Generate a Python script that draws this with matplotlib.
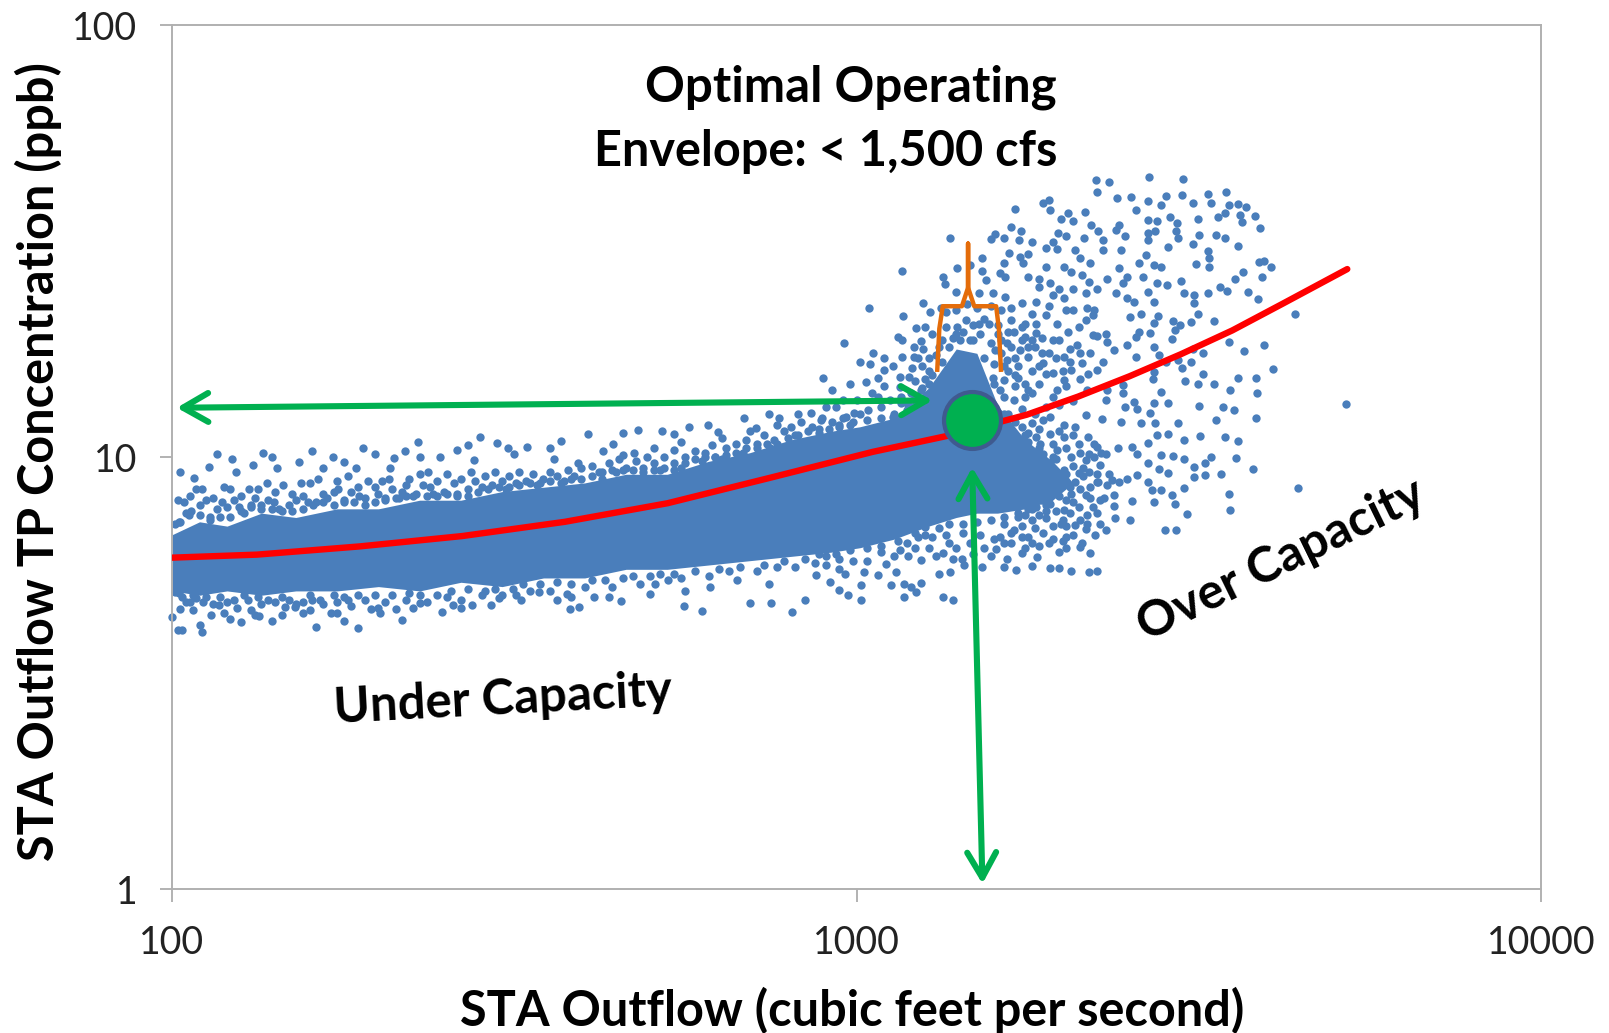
import matplotlib
matplotlib.use('Agg')
import matplotlib.pyplot as plt
import numpy as np

plt.rcParams['font.family'] = ['Lato', 'DejaVu Sans']

BLUE = '#4a7ebb'
GREEN = '#00b050'

# the cloud lists were read on a grid of 688 px per decade, the axis has 684.5
READ_STRETCH = 1.005

# solid part of the cloud: edges of the blue mass
core_flow = [2.00, 2.04, 2.08, 2.13, 2.18, 2.24, 2.30, 2.36, 2.42, 2.48, 2.54, 2.60, 2.66, 2.72, 2.78, 2.84, 2.90, 2.96,
             3.00, 3.05, 3.10, 3.14, 3.17, 3.20, 3.24, 3.28, 3.31]
core_high = [0.82, 0.85, 0.84, 0.87, 0.86, 0.88, 0.88, 0.90, 0.90, 0.92, 0.93, 0.94, 0.96, 0.96, 0.99, 1.01, 1.04, 1.06,
             1.07, 1.09, 1.16, 1.25, 1.24, 1.12, 1.04, 0.99, 0.94]
core_low = [0.69, 0.68, 0.69, 0.68, 0.69, 0.69, 0.70, 0.69, 0.71, 0.70, 0.72, 0.72, 0.74, 0.74, 0.75, 0.76, 0.77, 0.78,
            0.79, 0.81, 0.84, 0.86, 0.87, 0.87, 0.88, 0.90, 0.94]

top_edge = [(2.011, .966), (2.032, .951), (2.035, .927), (2.054, .978), (2.066, 1.008), (2.087, .995), (2.093, .966),
            (2.118, .981), (2.133, 1.010), (2.145, .999), (2.152, .974), (2.185, .989), (2.204, 1.015), (2.219, .974),
            (2.234, .999), (2.250, .989), (2.268, .974), (2.277, 1.020), (2.295, 1.008), (2.317, .974), (2.323, .997),
            (2.338, 1.015), (2.357, 1.035), (2.360, 1.001), (2.372, .966), (2.390, 1.001), (2.415, 1.016), (2.430, 1.028),
            (2.448, 1.047), (2.439, .993), (2.473, 1.033), (2.488, 1.020), (2.497, 1.008), (2.516, 1.022), (2.549, 1.020),
            (2.565, 1.037), (2.556, .995), (2.604, 1.053), (2.626, 1.015), (2.641, 1.030), (2.656, 1.055), (2.678, 1.063),
            (2.672, 1.010), (2.712, 1.061), (2.730, 1.053), (2.730, 1.016), (2.751, 1.070), (2.779, 1.074), (2.794, 1.059),
            (2.785, 1.028), (2.831, 1.090), (2.849, 1.066), (2.868, 1.100), (2.883, 1.090)]

upper_band = [(2.008, .90), (2.012, .85), (2.02, .87), (2.028, .875), (2.04, .89), (2.05, .90), (2.055, .86), (2.065, .88),
              (2.075, .93), (2.08, .885), (2.09, .90), (2.10, .91), (2.105, .87), (2.115, .89), (2.125, .925), (2.13, .89),
              (2.14, .90), (2.15, .92), (2.155, .88), (2.17, .89), (2.18, .90), (2.19, .91), (2.20, .94), (2.21, .895),
              (2.22, .915), (2.235, .92), (2.24, .945), (2.25, .90), (2.26, .92), (2.27, .93), (2.28, .905), (2.295, .93),
              (2.305, .945), (2.31, .905), (2.32, .925), (2.335, .92), (2.345, .95), (2.35, .91), (2.365, .935), (2.375, .93),
              (2.385, .945), (2.395, .92), (2.41, .94), (2.42, .95), (2.43, .925), (2.44, .945), (2.455, .955), (2.465, .935),
              (2.48, .945), (2.49, .955), (2.505, .965), (2.515, .945), (2.525, .96), (2.54, .95), (2.55, .965), (2.56, .955),
              (2.575, .97), (2.585, .955), (2.595, .975), (2.61, .98), (2.62, .965), (2.635, .985), (2.65, .995), (2.66, .975),
              (2.675, .99), (2.69, 1.00), (2.70, .985), (2.715, 1.00), (2.73, .985), (2.745, 1.00), (2.76, 1.015), (2.775, 1.01),
              (2.79, 1.00), (2.805, 1.02), (2.82, 1.03), (2.835, 1.04), (2.85, 1.03), (2.86, 1.05), (2.875, 1.04), (2.89, 1.06),
              (2.90, 1.07), (2.915, 1.08), (2.93, 1.07), (2.945, 1.09), (2.96, 1.08), (2.975, 1.09), (2.99, 1.08)]

# second pass over the speckled strip above the solid mass
upper_fill = [(2.005, .845), (2.018, .895), (2.026, .91), (2.044, .925), (2.06, .905), (2.072, .895), (2.085, .925), (2.098, .885),
              (2.112, .925), (2.12, .905), (2.138, .94), (2.148, .895), (2.162, .935), (2.175, .915), (2.188, .94), (2.198, .895),
              (2.212, .95), (2.226, .905), (2.242, .925), (2.256, .955), (2.272, .91), (2.285, .945), (2.30, .915), (2.315, .95),
              (2.33, .905), (2.34, .935), (2.36, .96), (2.38, .915), (2.40, .96), (2.415, .915), (2.435, .965), (2.45, .93),
              (2.47, .965), (2.485, .925), (2.50, .94), (2.53, .935), (2.57, .945), (2.59, .985), (2.625, .95), (2.645, .965),
              (2.665, .95), (2.685, .975), (2.71, .97), (2.74, .975), (2.77, .99), (2.80, .995), (2.83, 1.01), (2.87, 1.02),
              (2.905, 1.05), (2.94, 1.065), (2.97, 1.07), (2.655, 1.005), (2.70, 1.02), (2.74, 1.035), (2.80, 1.045), (2.84, 1.06),
              (2.88, 1.075), (2.91, 1.10), (2.95, 1.115), (3.00, 1.10), (3.03, 1.115), (3.06, 1.125), (3.08, 1.14), (3.10, 1.17)]

# dots sitting on the top edge of the solid mass, they roughen it
core_top_dots = [(2.01, .85), (2.025, .865), (2.04, .865), (2.055, .855), (2.07, .86), (2.085, .86), (2.10, .875), (2.115, .885),
                 (2.13, .88), (2.145, .88), (2.16, .875), (2.175, .875), (2.19, .88), (2.205, .89), (2.22, .895), (2.235, .89),
                 (2.25, .895), (2.265, .895), (2.28, .89), (2.295, .895), (2.31, .90), (2.325, .905), (2.34, .91), (2.355, .915),
                 (2.37, .91), (2.385, .91), (2.40, .915), (2.415, .91), (2.43, .91), (2.445, .92), (2.46, .925), (2.475, .93),
                 (2.49, .93), (2.505, .935), (2.52, .94), (2.535, .94), (2.55, .945), (2.565, .94), (2.58, .95), (2.595, .95),
                 (2.61, .955), (2.625, .965), (2.64, .97), (2.655, .97), (2.67, .97), (2.685, .965), (2.70, .97), (2.715, .975),
                 (2.73, .97), (2.745, .985), (2.76, .995), (2.775, 1.0), (2.79, 1.0), (2.805, 1.005), (2.82, 1.01), (2.835, 1.02),
                 (2.85, 1.02), (2.865, 1.03), (2.88, 1.03), (2.895, 1.045), (2.91, 1.05), (2.925, 1.06), (2.94, 1.055),
                 (2.955, 1.065), (2.97, 1.075), (2.985, 1.075), (3.01, 1.085), (3.03, 1.09), (3.05, 1.10), (3.07, 1.12),
                 (3.09, 1.16), (3.105, 1.19), (3.12, 1.22), (3.13, 1.255), (3.145, 1.27), (3.165, 1.27), (3.18, 1.23),
                 (3.195, 1.17), (3.21, 1.10), (3.225, 1.08), (3.24, 1.05), (3.26, 1.02), (3.28, 1.0), (3.30, .96)]

bottom_edge = [(2.000, .630), (2.008, .599), (2.014, .599), (2.011, .649), (2.005, .688), (2.026, .665), (2.035, .673),
               (2.041, .611), (2.044, .595), (2.057, .634), (2.069, .657), (2.084, .626), (2.100, .619), (2.115, .646),
               (2.127, .632), (2.145, .621), (2.164, .653), (2.179, .653), (2.191, .638), (2.210, .607), (2.204, .669),
               (2.231, .638), (2.250, .621), (2.256, .669), (2.271, .605), (2.289, .649), (2.302, .638), (2.335, .622),
               (2.326, .649), (2.360, .661), (2.393, .642), (2.409, .657), (2.436, .657), (2.464, .657), (2.476, .673),
               (2.507, .669), (2.534, .688), (2.559, .670), (2.574, .684), (2.579, .647), (2.591, .652), (2.614, .676),
               (2.635, .676), (2.652, .667), (2.695, .683), (2.702, .707), (2.744, .655), (2.745, .690), (2.771, .643),
               (2.782, .700), (2.840, .663), (2.871, .661), (2.901, .641), (2.920, .670), (2.868, .707), (2.822, .715),
               (2.721, .715)]

lower_band = [(2.01, .685), (2.02, .665), (2.05, .675), (2.06, .66), (2.08, .665), (2.095, .65), (2.11, .67), (2.13, .66),
              (2.15, .665), (2.17, .67), (2.19, .665), (2.22, .66), (2.24, .665), (2.26, .655), (2.28, .67), (2.31, .665),
              (2.34, .67), (2.37, .665), (2.40, .675), (2.42, .67), (2.45, .68), (2.48, .68), (2.52, .69), (2.55, .69),
              (2.60, .70), (2.64, .70), (2.68, .705), (2.74, .72), (2.78, .725), (2.81, .735), (2.85, .735), (2.88, .745),
              (2.905, .745), (2.935, .755), (2.95, .77), (2.97, .765), (2.03, .645), (2.075, .64), (2.12, .635), (2.16, .635),
              (2.20, .645), (2.24, .64), (2.30, .65), (2.35, .65), (2.42, .65), (2.50, .68), (2.58, .675)]

core_bottom_dots = [(2.015, .675), (2.03, .68), (2.045, .665), (2.07, .675), (2.09, .67), (2.105, .68), (2.125, .675), (2.14, .67),
                    (2.16, .675), (2.18, .66), (2.20, .68), (2.215, .67), (2.235, .68), (2.25, .675), (2.27, .68), (2.295, .68),
                    (2.32, .68), (2.345, .685), (2.36, .68), (2.385, .68), (2.405, .69), (2.43, .695), (2.455, .69), (2.47, .695),
                    (2.495, .695), (2.51, .705), (2.535, .705), (2.56, .71), (2.58, .705), (2.61, .715), (2.63, .715), (2.655, .72),
                    (2.67, .725), (2.695, .725), (2.71, .73), (2.73, .73), (2.76, .735), (2.795, .74), (2.825, .745), (2.86, .75),
                    (2.89, .76), (2.92, .765), (2.94, .775), (2.965, .775), (2.985, .785), (3.01, .79), (3.03, .795), (3.055, .805),
                    (3.08, .825), (3.095, .82), (3.115, .835), (3.13, .845), (3.15, .845), (3.17, .85), (3.19, .855), (3.21, .86),
                    (3.23, .87), (3.25, .88), (3.27, .89), (3.29, .91), (3.305, .93)]

upper_right = [(3.343, 1.641), (3.362, 1.636), (3.420, 1.649), (3.470, 1.643), (3.345, 1.614), (3.374, 1.599), (3.394, 1.601),
               (3.419, 1.593), (3.445, 1.604), (3.468, 1.606), (3.506, 1.609), (3.532, 1.614), (3.484, 1.587), (3.510, 1.587),
               (3.438, 1.583), (3.537, 1.583), (3.549, 1.586), (3.561, 1.578), (3.530, 1.564), (3.552, 1.560), (3.575, 1.558),
               (3.520, 1.555), (3.492, 1.550), (3.582, 1.529), (3.555, 1.543), (3.451, 1.555), (3.419, 1.549), (3.432, 1.546),
               (3.461, 1.541), (3.401, 1.572), (3.327, 1.566), (3.302, 1.565), (3.310, 1.546), (3.292, 1.551), (3.276, 1.572),
               (3.275, 1.596), (3.266, 1.589), (3.226, 1.573), (3.336, 1.537), (3.346, 1.524), (3.377, 1.537), (3.372, 1.525),
               (3.386, 1.511), (3.419, 1.519), (3.429, 1.522), (3.459, 1.524), (3.463, 1.506), (3.484, 1.494), (3.493, 1.514),
               (3.518, 1.514), (3.531, 1.506), (3.550, 1.488), (3.506, 1.478), (3.507, 1.460), (3.507, 1.440), (3.488, 1.447),
               (3.580, 1.452), (3.588, 1.454), (3.597, 1.439), (3.557, 1.429), (3.584, 1.417), (3.545, 1.413), (3.523, 1.394),
               (3.534, 1.384), (3.506, 1.379), (3.564, 1.381), (3.579, 1.366), (3.515, 1.315), (3.633, 1.330), (3.537, 1.267),
               (3.588, 1.259), (3.558, 1.246), (3.600, 1.203), (3.499, 1.241), (3.498, 1.193), (3.515, 1.169), (3.549, 1.184),
               (3.576, 1.184), (3.538, 1.155), (3.577, 1.147), (3.493, 1.119), (3.528, 1.115), (3.544, 1.108), (3.576, 1.091),
               (3.706, 1.122), (3.518, 1.085), (3.494, 1.049), (3.531, 1.047), (3.550, 1.037), (3.510, .999), (3.546, .997),
               (3.572, .972), (3.525, .960), (3.502, .985), (3.501, .959), (3.637, .929), (3.537, .914), (3.538, .877),
               (3.476, .867), (3.443, .832), (3.459, .832), (3.392, .854), (3.371, .859)]

middle_right = [(3.354, 1.502), (3.354, 1.479), (3.379, 1.479), (3.419, 1.502), (3.448, 1.487), (3.416, 1.467), (3.406, 1.448),
                (3.427, 1.444), (3.437, 1.439), (3.376, 1.437), (3.359, 1.413), (3.388, 1.417), (3.412, 1.417), (3.467, 1.408),
                (3.383, 1.402), (3.432, 1.403), (3.447, 1.398), (3.419, 1.383), (3.372, 1.379), (3.388, 1.367), (3.398, 1.359),
                (3.471, 1.379), (3.486, 1.375), (3.486, 1.356), (3.492, 1.331), (3.481, 1.313), (3.427, 1.359), (3.409, 1.332),
                (3.434, 1.326), (3.393, 1.325), (3.455, 1.315), (3.427, 1.311), (3.406, 1.290), (3.422, 1.286), (3.401, 1.278),
                (3.357, 1.284), (3.339, 1.282), (3.359, 1.267), (3.388, 1.259), (3.370, 1.247), (3.458, 1.294), (3.453, 1.274),
                (3.466, 1.305), (3.427, 1.255), (3.435, 1.236), (3.401, 1.232), (3.445, 1.220), (3.463, 1.224), (3.481, 1.220),
                (3.468, 1.207), (3.484, 1.251), (3.354, 1.220), (3.331, 1.193), (3.344, 1.201), (3.428, 1.197), (3.426, 1.180),
                (3.383, 1.166), (3.359, 1.155), (3.472, 1.176), (3.492, 1.169), (3.437, 1.151), (3.383, 1.147), (3.357, 1.133),
                (3.398, 1.128), (3.448, 1.126), (3.386, 1.116), (3.403, 1.112), (3.427, 1.124), (3.328, 1.097), (3.352, 1.089),
                (3.380, 1.081), (3.409, 1.079), (3.422, 1.101), (3.429, 1.078), (3.463, 1.078), (3.448, 1.054), (3.471, 1.039),
                (3.432, 1.051), (3.419, 1.033), (3.375, 1.020), (3.396, 1.024), (3.403, 1.008), (3.437, 1.004), (3.455, 1.002),
                (3.471, .995), (3.419, .985), (3.435, .973), (3.448, .962), (3.486, .977), (3.486, .953), (3.403, .958),
                (3.419, .943), (3.388, .949), (3.377, .943), (3.367, .946), (3.424, .923), (3.437, .923), (3.453, .912),
                (3.458, .892), (3.471, .929), (3.396, .898), (3.428, .896), (3.370, .912), (3.370, .886), (3.346, .943)]

upper_left = [(3.131, 1.508), (3.061, 1.431), (3.013, 1.346), (3.062, 1.327), (2.977, 1.264), (2.947, 1.184), (3.219, 1.533),
              (3.196, 1.516), (3.191, 1.504), (3.210, 1.508), (3.234, 1.522), (3.231, 1.502), (3.250, 1.498), (3.280, 1.498),
              (3.288, 1.519), (3.299, 1.511), (3.326, 1.506), (3.217, 1.473), (3.245, 1.471), (3.232, 1.464), (3.237, 1.448),
              (3.178, 1.460), (3.160, 1.444), (3.141, 1.437), (3.178, 1.431), (3.209, 1.448), (3.204, 1.425), (3.211, 1.417),
              (3.183, 1.410), (3.121, 1.417), (3.123, 1.400), (3.139, 1.383), (3.173, 1.379), (3.193, 1.379), (3.211, 1.371),
              (3.235, 1.356), (3.256, 1.359), (3.245, 1.417), (3.261, 1.413), (3.276, 1.402), (3.281, 1.375), (3.297, 1.367),
              (3.310, 1.340), (3.271, 1.483), (3.287, 1.481), (3.313, 1.479), (3.297, 1.440), (3.307, 1.429), (3.323, 1.421),
              (3.333, 1.406), (3.344, 1.390), (3.328, 1.379), (3.261, 1.394), (3.092, 1.357), (3.118, 1.346), (3.102, 1.336),
              (3.082, 1.299), (3.095, 1.302), (3.056, 1.278), (3.061, 1.271), (3.079, 1.255), (3.089, 1.269), (3.092, 1.251),
              (3.019, 1.240), (3.035, 1.230), (3.000, 1.219), (3.014, 1.215), (3.048, 1.210), (3.061, 1.232), (3.079, 1.232),
              (3.035, 1.201), (3.027, 1.182), (2.986, 1.170), (3.009, 1.174), (2.959, 1.155), (3.058, 1.186), (3.071, 1.186),
              (3.141, 1.302), (3.154, 1.317), (3.173, 1.309), (3.188, 1.309), (3.219, 1.317), (3.240, 1.309), (3.256, 1.309),
              (3.271, 1.329), (3.287, 1.309), (3.302, 1.290), (3.318, 1.302), (3.328, 1.317), (3.339, 1.329), (3.281, 1.271),
              (3.256, 1.286), (3.240, 1.278), (3.224, 1.290), (3.214, 1.263), (3.196, 1.247), (3.232, 1.247), (3.245, 1.232),
              (3.266, 1.217), (3.271, 1.193), (3.297, 1.232), (3.307, 1.201), (3.323, 1.217), (3.214, 1.224), (3.230, 1.182),
              (3.209, 1.178), (3.193, 1.182), (3.287, 1.155), (3.297, 1.178), (3.250, 1.147), (3.240, 1.139), (3.224, 1.132),
              (3.204, 1.155), (2.929, 1.101), (2.944, 1.085), (2.965, 1.116), (2.980, 1.093), (2.996, 1.132), (3.012, 1.108),
              (3.027, 1.139), (3.043, 1.132), (3.058, 1.163), (3.074, 1.147), (3.089, 1.155), (2.975, 1.132), (3.017, 1.147),
              (2.991, 1.101), (3.048, 1.093), (3.069, 1.108), (3.095, 1.132)]

# the busy cone above the green circle
cone_fill = [(3.10, 1.20), (3.11, 1.235), (3.12, 1.27), (3.125, 1.30), (3.135, 1.275), (3.15, 1.29), (3.16, 1.27), (3.175, 1.285),
             (3.19, 1.265), (3.20, 1.285), (3.205, 1.24), (3.215, 1.20), (3.22, 1.255), (3.225, 1.165), (3.23, 1.21), (3.24, 1.17),
             (3.25, 1.20), (3.255, 1.255), (3.26, 1.17), (3.265, 1.275), (3.275, 1.24), (3.28, 1.14), (3.29, 1.27), (3.295, 1.20),
             (3.305, 1.25), (3.315, 1.26), (3.32, 1.18), (3.335, 1.24), (3.345, 1.28), (3.30, 1.34), (3.31, 1.39), (3.33, 1.345),
             (3.275, 1.35), (3.29, 1.39), (3.25, 1.33), (3.27, 1.44), (3.22, 1.345), (3.205, 1.34), (3.19, 1.35), (3.17, 1.345),
             (3.155, 1.355), (3.14, 1.34), (3.125, 1.335), (3.105, 1.285), (3.09, 1.21), (3.075, 1.205), (3.11, 1.165), (3.125, 1.19),
             (3.035, 1.165), (3.06, 1.14), (3.08, 1.175), (3.095, 1.18), (3.21, 1.14), (3.215, 1.10), (3.235, 1.11), (3.255, 1.10),
             (3.27, 1.115), (3.29, 1.12), (3.31, 1.13), (3.33, 1.155), (3.195, 1.215), (3.34, 1.34), (3.32, 1.46), (3.335, 1.45),
             (3.14, 1.285), (3.165, 1.305), (3.18, 1.32), (3.20, 1.305), (3.215, 1.29), (3.235, 1.30), (3.25, 1.27), (3.235, 1.27),
             (3.205, 1.27), (3.225, 1.23), (3.245, 1.255), (3.265, 1.24), (3.285, 1.23), (3.305, 1.22), (3.32, 1.24), (3.26, 1.21),
             (3.28, 1.195), (3.30, 1.165), (3.245, 1.155), (3.225, 1.19), (3.21, 1.21), (3.115, 1.255), (3.10, 1.23), (3.085, 1.23)]

lower_right = [(3.235, 1.070), (3.250, 1.078), (3.266, 1.085), (3.276, 1.093), (3.297, 1.074), (3.313, 1.070), (3.331, 1.047),
               (3.344, 1.024), (3.357, 1.008), (3.235, 1.039), (3.256, 1.047), (3.276, 1.054), (3.297, 1.047), (3.318, 1.031),
               (3.333, 1.008), (3.245, 1.016), (3.266, 1.008), (3.287, 1.016), (3.307, 1.000), (3.328, .993), (3.349, .981),
               (3.235, .985), (3.256, .977), (3.276, .985), (3.297, .970), (3.318, .962), (3.333, .966), (3.250, .954),
               (3.271, .946), (3.292, .939), (3.313, .943), (3.344, .943), (3.359, .935), (3.224, .946), (3.240, .923),
               (3.266, .923), (3.287, .915), (3.307, .915), (3.328, .912), (3.349, .900), (3.235, .900), (3.256, .885),
               (3.276, .892), (3.297, .877), (3.318, .885), (3.339, .885), (3.214, .885), (3.230, .861), (3.250, .854),
               (3.271, .858), (3.292, .846), (3.313, .842), (3.328, .834), (3.357, .831), (3.349, .846), (3.209, .846),
               (3.204, .815), (3.224, .831), (3.245, .815), (3.266, .823), (3.281, .811), (3.300, .815), (3.323, .800),
               (3.341, .819), (3.320, .792), (3.334, .777), (3.198, .788), (3.214, .765), (3.235, .777), (3.258, .769),
               (3.209, .746), (3.227, .739), (3.250, .747), (3.276, .744), (3.289, .742), (3.307, .736), (3.333, .734),
               (3.344, .736), (3.228, 1.02), (3.245, 1.055), (3.262, 1.03), (3.28, 1.03), (3.30, 1.02), (3.32, 1.01), (3.34, 1.00),
               (3.25, .995), (3.268, .965), (3.285, .995), (3.30, .945), (3.325, .955), (3.345, .96), (3.26, .94), (3.28, .92),
               (3.30, .90), (3.32, .925), (3.335, .93), (3.245, .90), (3.265, .90), (3.285, .875), (3.305, .87), (3.33, .865),
               (3.24, .865), (3.26, .865), (3.28, .84), (3.30, .84), (3.235, .84), (3.255, .835), (3.22, .80), (3.26, .795),
               (3.29, .78), (3.30, .79), (3.24, .79), (3.21, .80), (3.22, .825), (3.235, .815), (3.25, .80), (3.275, .80),
               (3.295, .805), (3.31, .82), (3.33, .845), (3.345, .87), (3.355, .905), (3.362, .96), (3.35, 1.01), (3.34, 1.03),
               (3.31, 1.05), (3.29, 1.06), (3.26, 1.065), (3.245, 1.035), (3.27, .95), (3.29, .96), (3.31, .98), (3.325, .975),
               (3.255, .93), (3.275, .905), (3.31, .895), (3.335, .905), (3.295, .855), (3.32, .855), (3.27, .875), (3.245, .88)]

lower_left = [(3.121, .777), (3.136, .765), (3.149, .765), (3.115, .730), (3.131, .734), (3.178, .746), (3.152, .750),
              (3.095, .838), (3.105, .815), (3.089, .761), (3.069, .800), (3.058, .784), (3.038, .753), (3.053, .734),
              (3.027, .726), (3.006, .734), (3.001, .703), (2.978, .730), (2.957, .711), (2.936, .726), (2.970, .692),
              (2.983, .680), (3.045, .703), (3.064, .705), (3.089, .709), (3.074, .699), (3.082, .688), (3.064, .676),
              (3.121, .676), (3.136, .670), (3.001, .668), (2.95, .75), (2.97, .74), (2.99, .76), (3.01, .76), (3.03, .78),
              (3.05, .77), (3.08, .79), (3.10, .79), (3.13, .80), (3.16, .80), (3.18, .79), (3.19, .77), (3.07, .77), (3.11, .77),
              (3.14, .79), (3.165, .775), (3.195, .81), (3.175, .82), (3.15, .825), (3.125, .82), (3.085, .815)]

trend_flow = [2.000, 2.124, 2.274, 2.424, 2.574, 2.724, 2.874, 3.024, 3.136, 3.249, 3.324, 3.399, 3.474, 3.549, 3.624, 3.717]
trend_tp = [0.767, 0.774, 0.793, 0.817, 0.850, 0.893, 0.952, 1.012, 1.050, 1.098, 1.140, 1.187, 1.238, 1.293, 1.356, 1.435]

optimum = (3.169, 1.086)
bracket_flow = [3.118, 3.121, 3.126, 3.154, 3.163, 3.163, 3.163, 3.172, 3.204, 3.208, 3.211]
bracket_tp = [1.202, 1.297, 1.349, 1.349, 1.392, 1.494, 1.392, 1.349, 1.349, 1.297, 1.202]

xticks = [100, 1000, 10000]
yticks = [1, 10, 100]

W, H = 1609, 1033
fig = plt.figure(figsize=(W / 100, H / 100), dpi=100)
ax = fig.add_axes([172 / W, 1 - 889 / H, (1541 - 172) / W, (889 - 25) / H])


def stretched(values):
    return 10 ** (2 + (np.array(values) - 2) * READ_STRETCH)


ax.fill_between(stretched(core_flow), 10 ** np.array(core_low), 10 ** np.array(core_high),
                color=BLUE, linewidth=0, zorder=2)
for cloud in [top_edge, upper_band, upper_fill, core_top_dots, bottom_edge, lower_band, core_bottom_dots, upper_right,
              middle_right, upper_left, cone_fill, lower_right, lower_left]:
    pts = np.array(cloud)
    ax.scatter(stretched(pts[:, 0]), 10 ** pts[:, 1], s=36, color=BLUE, linewidths=0, zorder=2, clip_on=False)

ax.plot(10 ** np.array(trend_flow), 10 ** np.array(trend_tp), color='#ff0000', lw=4.6, zorder=3, solid_capstyle='round')
ax.plot(10 ** np.array(bracket_flow), 10 ** np.array(bracket_tp), color='#e46c0a', lw=3.2, zorder=4)

arrow = dict(arrowstyle='<->,head_length=0.7,head_width=0.4', color=GREEN, lw=4.4, shrinkA=0, shrinkB=0, mutation_scale=26)
ax.annotate('', xy=(10 ** 2.007, 10 ** 1.114), xytext=(10 ** 3.111, 10 ** 1.131), arrowprops=arrow, zorder=5)
ax.annotate('', xy=(10 ** 3.169, 10 ** 0.976), xytext=(10 ** 3.184, 10 ** 0.012), arrowprops=arrow, zorder=5)

ax.plot([10 ** optimum[0]], [10 ** optimum[1]], 'o', ms=41, mfc=GREEN, mec='#3f5a8f', mew=3, zorder=6)

ax.set_xscale('log')
ax.set_yscale('log')
ax.set_xlim(100, 10000)
ax.set_ylim(1, 100)
ax.set_xticks(xticks)
ax.set_xticklabels([str(t) for t in xticks])
ax.set_yticks(yticks)
ax.set_yticklabels([str(t) for t in yticks])
ax.minorticks_off()
ax.tick_params(length=9, width=1.2, color='#a6a6a6', labelsize=27, labelcolor='#222222')
ax.tick_params(axis='x', pad=17)
ax.tick_params(axis='y', pad=16)
for s in ax.spines.values():
    s.set_color('#b0b0b0')
    s.set_linewidth(1.4)

fig.text(1057 / W, 1 - 87 / H, 'Optimal Operating', ha='right', va='center', fontsize=35.5, fontweight='bold')
fig.text(1057 / W, 1 - 151 / H, 'Envelope: < 1,500 cfs', ha='right', va='center', fontsize=35, fontweight='bold')
fig.text(503 / W, 1 - 700 / H, 'Under Capacity', ha='center', va='center', fontsize=35.3, fontweight='bold', rotation=3)
fig.text(1281 / W, 1 - 560 / H, 'Over Capacity', ha='center', va='center', fontsize=35.5, fontweight='bold', rotation=26)
fig.text(852 / W, 1 - 1010 / H, 'STA Outflow (cubic feet per second)', ha='center', va='center', fontsize=35, fontweight='bold')
fig.text(38 / W, 1 - 462 / H, 'STA Outflow TP Concentration (ppb)', ha='center', va='center', fontsize=35,
         fontweight='bold', rotation=90)

fig.savefig('out.png', dpi=100)
